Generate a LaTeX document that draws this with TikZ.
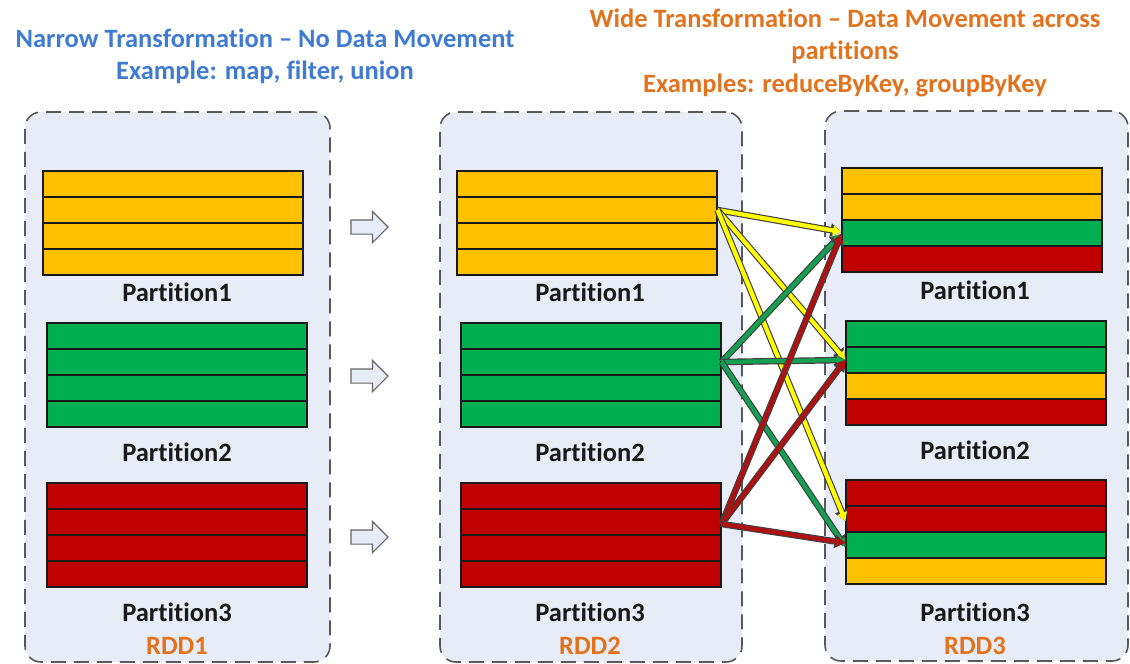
\documentclass[tikz,border=0pt]{standalone}
\usepackage{fontspec}
\setmainfont{Carlito}[Ligatures=NoCommon]
\usetikzlibrary{shapes.arrows,arrows.meta}
\definecolor{cyel}{HTML}{FFC000}
\definecolor{cgrn}{HTML}{00B050}
\definecolor{cred}{HTML}{C00000}
\definecolor{boxfill}{HTML}{E7ECF6}
\definecolor{tblue}{HTML}{3F7BD0}
\definecolor{torange}{HTML}{E2731E}
\definecolor{lyel}{HTML}{FFFF00}
\definecolor{lgrn}{HTML}{13A050}
\definecolor{lred}{HTML}{B01010}
\tikzset{
  container/.style={draw=black!65, dashed, dash pattern=on 15pt off 8pt, line width=1.6pt, fill=boxfill, rounded corners=16pt, minimum width=#1, minimum height=550pt, inner sep=0pt},
  rowbox/.style={draw=black!90, line width=1.1pt, minimum width=260pt, minimum height=26pt, inner sep=0pt, fill=#1},
  plabel/.style={font=\fontsize{26.5}{30}\selectfont\bfseries, text=black!90},
  rddlabel/.style={font=\fontsize{26.5}{30}\selectfont\bfseries, text=torange},
  hollow/.style={single arrow, draw=black!60, fill=boxfill, line width=1.1pt, minimum height=37pt, inner xsep=0pt, inner ysep=6.5pt, single arrow head extend=8.5pt},
  linkbg/.style={draw=black!75, line width=6.5pt, -{Triangle[length=11pt,width=13pt]}},
  linkfg/.style={draw=#1, line width=4.2pt, -{Triangle[length=8.5pt,width=9.5pt]}}
}
\newcommand\mkpart[4]{%
  \foreach \c [count=\i] in {#4} {
    \node[rowbox=\c] (#1-\i) at (#2, #3+26*\i-13) {};
  }%
}
\newcommand\wlink[3]{%
  \draw[linkbg] #2 -- #3;
  \draw[linkfg=#1] #2 -- #3;
}
\begin{document}
\begin{tikzpicture}[x=1pt,y=-1pt]
\useasboundingbox (0,0) rectangle (1130,664);
% containers
\node[container=305pt] (rdd1) at (177.5,387) {};
\node[container=302pt] (rdd2) at (591,387) {};
\node[container=303pt] (rdd3) at (976.5,386) {};
% titles
\node[text=tblue, font=\fontsize{26.5}{32}\selectfont\bfseries, align=center] (t1) at (265,56) {Narrow Transformation \textendash{} No Data Movement\\Example: map, filter, union};
\node[text=torange, font=\fontsize{26.5}{32.5}\selectfont\bfseries, align=center] (t2) at (845,52.5) {Wide Transformation \textendash{} Data Movement across\\partitions\\Examples: reduceByKey, groupByKey};
% RDD1
\mkpart{a1}{173}{171}{cyel,cyel,cyel,cyel}
\mkpart{a2}{177}{323}{cgrn,cgrn,cgrn,cgrn}
\mkpart{a3}{177}{483}{cred,cred,cred,cred}
\node[plabel] (la1) at (177,292) {Partition1};
\node[plabel] (la2) at (177,452) {Partition2};
\node[plabel] (la3) at (177,612) {Partition3};
\node[rddlabel] (lr1) at (177,646) {RDD1};
% RDD2
\mkpart{b1}{587}{171}{cyel,cyel,cyel,cyel}
\mkpart{b2}{591}{323}{cgrn,cgrn,cgrn,cgrn}
\mkpart{b3}{591}{483}{cred,cred,cred,cred}
\node[plabel] (lb1) at (590,292) {Partition1};
\node[plabel] (lb2) at (590,452) {Partition2};
\node[plabel] (lb3) at (590,612) {Partition3};
\node[rddlabel] (lr2) at (590,646) {RDD2};
% RDD3
\mkpart{c1}{972}{168}{cyel,cyel,cgrn,cred}
\mkpart{c2}{976}{321}{cgrn,cgrn,cyel,cred}
\mkpart{c3}{976}{480}{cred,cred,cgrn,cyel}
\node[plabel] (lc1) at (975,290) {Partition1};
\node[plabel] (lc2) at (975,450) {Partition2};
\node[plabel] (lc3) at (975,612) {Partition3};
\node[rddlabel] (lr3) at (975,646) {RDD3};
% narrow arrows
\node[hollow] (h1) at (366,227) {};
\node[hollow] (h2) at (366,376) {};
\node[hollow] (h3) at (366,537) {};
% wide links
\wlink{lyel}{(b1-2.east)}{([yshift=1pt]c1-3.west)}
\wlink{lyel}{(b1-2.east)}{(c2-2.west)}
\wlink{lyel}{(b1-2.east)}{([yshift=-2pt]c3-2.west)}
\wlink{lgrn}{(b2-2.east)}{([yshift=-1pt]c1-3.west)}
\wlink{lgrn}{(b2-2.east)}{(c2-2.west)}
\wlink{lgrn}{(b2-2.east)}{([yshift=-2pt]c3-3.west)}
\wlink{lred}{([yshift=-2pt]b3-2.east)}{([yshift=-1pt]c1-3.west)}
\wlink{lred}{([yshift=-2pt]b3-2.east)}{(c2-2.west)}
\wlink{lred}{([yshift=-2pt]b3-2.east)}{([yshift=2pt]c3-3.west)}
\end{tikzpicture}
\end{document}
